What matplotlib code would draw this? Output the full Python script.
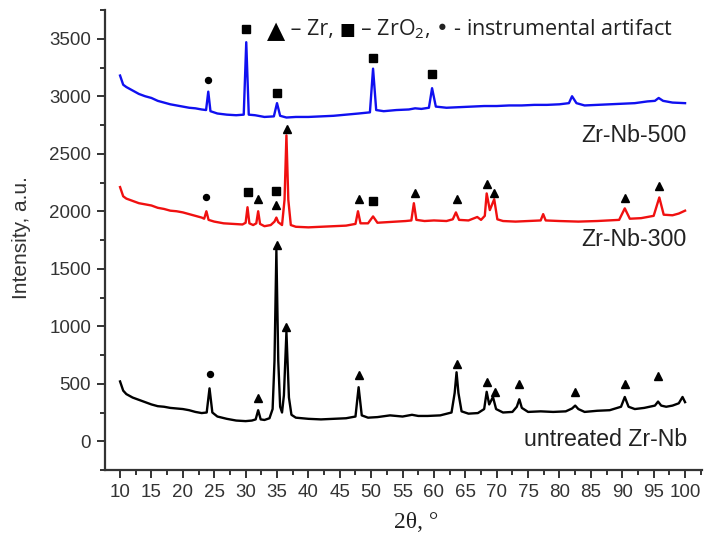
import matplotlib
matplotlib.use("Agg")
import matplotlib.pyplot as plt
from matplotlib.ticker import MultipleLocator

plt.rcParams['font.family'] = ['Liberation Sans', 'DejaVu Sans']
plt.rcParams['mathtext.default'] = 'regular'

# 2theta / intensity (peak apex and feet + baseline)
tt_black = [10, 10.5, 11, 12, 13, 14, 15, 16, 17, 18, 19, 20, 21, 22, 23, 23.8, 24.25, 24.7,
            25.5, 27, 28.5, 30, 31, 31.6, 32.0, 32.4, 33, 33.8, 34.3, 34.6, 34.9, 35.2, 35.5,
            35.8, 36.1, 36.5, 36.9, 37.3, 38, 40, 42, 44, 46, 47.5, 48.0, 48.5, 49.5, 51, 53,
            55, 56.5, 57.5, 59, 61, 62.8, 63.3, 63.6, 63.9, 64.4, 65.5, 67, 68.0, 68.4, 68.8,
            69.4, 69.9, 71, 72.5, 73.2, 73.6, 74.0, 75, 77, 79, 81, 82.0, 82.5, 83.0, 84, 86,
            88, 89.8, 90.4, 91.0, 92, 93.5, 95.2, 95.7, 96.2, 97, 98, 99, 99.6, 100]
int_black = [520, 440, 410, 380, 360, 340, 320, 305, 300, 290, 285, 280, 270, 255, 245, 250, 460, 250,
             215, 195, 180, 175, 180, 190, 270, 190, 185, 200, 280, 700, 1660, 700, 300,
             250, 400, 950, 380, 230, 205, 195, 190, 195, 200, 215, 470, 225, 205, 210, 225,
             215, 230, 220, 220, 225, 250, 420, 600, 420, 260, 240, 245, 280, 430, 320,
             385, 280, 250, 255, 300, 365, 290, 255, 260, 255, 260, 285, 310, 280, 255, 265,
             270, 300, 385, 300, 280, 290, 310, 345, 310, 300, 310, 330, 385, 340]

tt_red = [10, 10.5, 11, 12, 13, 14, 15, 16, 17, 18, 19, 20, 21, 22, 23, 23.4, 23.75, 24.1, 25,
          26.5, 28, 29.5, 30.0, 30.3, 30.6, 31.2, 31.7, 32.0, 32.3, 33, 34.0, 34.6, 34.9, 35.2,
          35.8, 36.2, 36.5, 36.8, 37.2, 38, 40, 42, 44, 46, 47.5, 47.9, 48.3, 49.5, 50.3, 51.0,
          52.5, 54, 55.5, 56.4, 56.8, 57.2, 58.5, 60, 62, 63.0, 63.5, 64.0, 65.5, 66.9, 67.5,
          68.1, 68.4, 68.9, 69.6, 70.1, 71, 73, 75, 77.0, 77.4, 77.8, 80, 83, 86, 89.5, 90.4,
          91.2, 93, 95.0, 95.9, 96.6, 98, 99, 100]
int_red = [2210, 2130, 2110, 2090, 2070, 2060, 2050, 2030, 2020, 2005, 2000, 1990, 1975, 1960, 1945, 1935, 2000, 1925, 1910,
           1895, 1890, 1885, 1900, 2035, 1895, 1880, 1895, 2000, 1890, 1870, 1880, 1910, 1945, 1905,
           1880, 2100, 2660, 2100, 1880, 1865, 1860, 1865, 1870, 1875, 1890, 2000, 1895, 1895, 1955, 1900,
           1905, 1910, 1915, 1920, 2070, 1925, 1915, 1920, 1915, 1930, 1990, 1925, 1920, 1950, 1925,
           1960, 2155, 2010, 2105, 1930, 1915, 1910, 1915, 1920, 1975, 1920, 1915, 1910, 1915, 1925, 2025,
           1935, 1940, 1960, 2120, 1970, 1965, 1980, 2005]

tt_blue = [10, 10.5, 11, 12, 13, 14, 15, 16, 17, 18, 19, 20, 21, 22, 23, 23.7, 24.05, 24.4, 25.5,
           27, 28.5, 29.7, 30.1, 30.5, 31.5, 33, 34.5, 35.0, 35.5, 36.5, 38, 40, 42, 44, 46, 48,
           49.8, 50.3, 50.8, 52, 54, 56, 57, 58, 59.2, 59.7, 60.3, 62, 64, 66, 68, 70, 72, 74,
           76, 78, 80, 81.5, 82.0, 82.7, 84, 86, 88, 90, 92, 94, 95.2, 95.8, 96.5, 98, 100]
int_blue = [3180, 3100, 3080, 3050, 3020, 3000, 2985, 2960, 2945, 2930, 2920, 2910, 2900, 2895, 2885, 2880, 3040, 2870, 2850,
            2840, 2835, 2840, 3470, 2840, 2835, 2820, 2825, 2940, 2830, 2815, 2820, 2820, 2825, 2830, 2840, 2850,
            2860, 3240, 2880, 2870, 2880, 2885, 2895, 2890, 2900, 3070, 2910, 2900, 2905, 2910, 2915, 2915, 2920, 2920,
            2925, 2925, 2930, 2940, 3000, 2940, 2920, 2925, 2930, 2935, 2940, 2955, 2960, 2985, 2960, 2945, 2940]

# phase markers (x, y)
zr_x = [32.0, 34.85, 36.65, 48.0, 57.0, 63.6, 68.4, 69.6, 90.5, 95.9,
        32.0, 34.95, 36.45, 48.0, 63.6, 68.4, 69.7, 73.6, 82.5, 90.5, 95.75]
zr_y = [2104, 2052, 2713, 2104, 2160, 2110, 2235, 2163, 2116, 2217,
        377, 1704, 994, 574, 676, 516, 429, 496, 429, 496, 565]
zro2_x = [30.1, 35.05, 50.35, 59.75, 30.3, 34.85, 50.35]
zro2_y = [3589, 3032, 3333, 3197, 2168, 2174, 2090]
art_x = [24.0, 23.7, 24.3]
art_y = [3145, 2122, 583]

series_labels = ["Zr-Nb-500", "Zr-Nb-300", "untreated Zr-Nb"]

W, H = 704, 537
fig = plt.figure(figsize=(W / 100, H / 100), dpi=100)
ax = fig.add_axes([105 / W, 1 - 470 / H, (702 - 105) / W, (470 - 10) / H])

ax.plot(tt_blue, int_blue, color='#1010f0', lw=1.7)
ax.plot(tt_red, int_red, color='#f01010', lw=1.7)
ax.plot(tt_black, int_black, color='black', lw=1.7)

ax.plot(zr_x, zr_y, '^', color='black', ms=6.3, ls='none')
ax.plot(zro2_x, zro2_y, 's', color='black', ms=5.2, ls='none')
ax.plot(art_x, art_y, 'o', color='black', ms=4.3, ls='none')

ax.set_xlim(7.6, 102.7)
ax.set_ylim(-250, 3750)
ax.xaxis.set_major_locator(MultipleLocator(5))
ax.xaxis.set_minor_locator(MultipleLocator(2.5))
ax.yaxis.set_major_locator(MultipleLocator(500))
ax.yaxis.set_minor_locator(MultipleLocator(250))

for s in ['top', 'right']:
    ax.spines[s].set_visible(False)
for s in ['left', 'bottom']:
    ax.spines[s].set_color('#333333')
    ax.spines[s].set_linewidth(1.6)
ax.tick_params(which='major', direction='out', length=6, width=1.4, color='#333333',
               labelsize=13.5, labelcolor='#333333', pad=4)
ax.tick_params(which='minor', direction='out', length=3.5, width=1.4, color='#333333')

fig.text(22 / W, 1 - 238 / H, "Intensity, a.u.", rotation=90, ha='center', va='center',
         fontsize=15, color='#333333')
fig.text(416 / W, 1 - 523 / H, "2\u03b8, \u00b0", ha='center', va='center',
         fontsize=17, color='#222222', family=['Liberation Serif', 'DejaVu Serif'])

lab_y = [136, 239, 440]
for t, y in zip(series_labels, lab_y):
    fig.text(687 / W, 1 - y / H, t, ha='right', va='center', fontsize=16.7, color='#222222')

# legend line at the top, pieces chained left to right
renderer = fig.canvas.get_renderer()
pieces = [("\u25b2", 17, ['DejaVu Sans'], 31),
          (" \u2013 Zr, ", 15.5, ['Open Sans'], 29),
          ("\u25a0", 12, ['DejaVu Sans'], 30),
          (" \u2013 ZrO$_2$, \u2022 - instrumental artifact", 15.5, ['Open Sans'], 29)]
x_px = 267
for txt, fs, fam, y in pieces:
    t = fig.text(x_px / W, 1 - y / H, txt, ha='left', va='center', fontsize=fs,
                 family=fam, color='black' if fam == ['DejaVu Sans'] else '#222222')
    x_px = t.get_window_extent(renderer).x1

fig.savefig("out.png", dpi=100)
